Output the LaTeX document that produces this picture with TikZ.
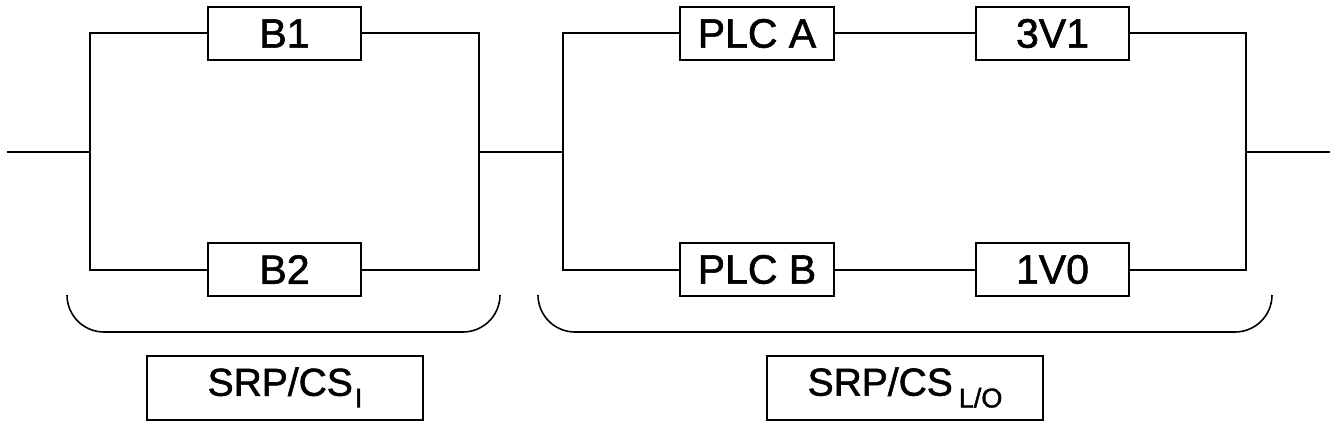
\documentclass[tikz,border=0pt]{standalone}
\usepackage{fontspec}
\setmainfont{Liberation Sans}
\newfontface\heavyface{Liberation Sans}[FakeBold=1.5]
\begin{document}
\begin{tikzpicture}[x=1pt,y=-1pt,
  blk/.style={draw,line width=2pt,minimum width=153pt,minimum height=53pt,inner sep=0pt,
    font=\heavyface\fontsize{41}{43}\selectfont},
  lbl/.style={draw,line width=2pt,minimum width=276pt,minimum height=64pt,inner sep=0pt,
    font=\heavyface\fontsize{39}{41}\selectfont},
  wire/.style={line width=2pt},
  brace/.style={line width=1.6pt,rounded corners=37pt}]
\useasboundingbox (0,0) rectangle (1337,428);
% blocks
\node[blk] (B1) at (284.5,33.5) {B1};
\node[blk] (B2) at (284.5,269.5) {B2};
\node[blk,minimum width=154pt] (PA) at (757,33.5) {PLC A};
\node[blk,minimum width=154pt] (PB) at (757,269.5) {PLC B};
\node[blk] (V31) at (1052.5,33.5) {3V1};
\node[blk] (V10) at (1052.5,269.5) {1V0};
% junctions
\coordinate (in) at (7,152);
\coordinate (j1) at (90,152);
\coordinate (j2) at (479,152);
\coordinate (j3) at (563,152);
\coordinate (j4) at (1246,152);
\coordinate (out) at (1330,152);
% wires
\draw[wire] (in) -- (j1);
\draw[wire] (B1.west) -| (j1) |- (B2.west);
\draw[wire] (B1.east) -| (j2) |- (B2.east);
\draw[wire] (j2) -- (j3);
\draw[wire] (PA.west) -| (j3) |- (PB.west);
\draw[wire] (PA) -- (V31);
\draw[wire] (PB) -- (V10);
\draw[wire] (V31.east) -| (j4) |- (V10.east);
\draw[wire] (j4) -- (out);
% braces
\coordinate (b1s) at (67,295);
\coordinate (b1e) at (500,295);
\coordinate (b2s) at (538,295);
\coordinate (b2e) at (1272,295);
\draw[brace] (b1s) -- (67,332) -- (500,332) -- (b1e);
\draw[brace] (b2s) -- (538,332) -- (1272,332) -- (b2e);
% labels
\node[lbl] (L1) at (285,387.5) {SRP/CS\hspace{2pt}\raisebox{-0.3em}{\fontsize{27}{27}\selectfont I}};
\node[lbl] (L2) at (905,387.5) {SRP/CS\hspace{6pt}\raisebox{-0.3em}{\fontsize{27}{27}\selectfont L/O}};
\end{tikzpicture}
\end{document}
